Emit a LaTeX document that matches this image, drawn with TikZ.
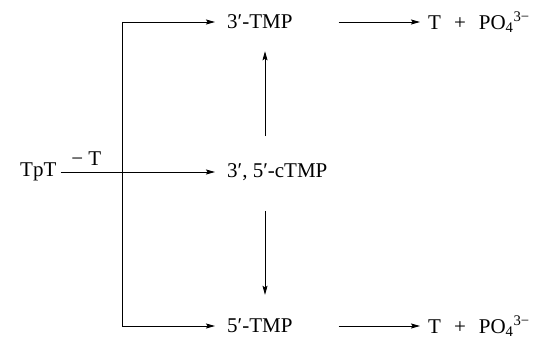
\documentclass[tikz,border=0pt]{standalone}
\usepackage{fontspec}
\setmainfont{Liberation Serif}
\usetikzlibrary{arrows.meta,positioning,calc}

\begin{document}
\begin{tikzpicture}[x=1pt, y=-1pt,
    chem/.style={inner sep=0pt, anchor=west, font=\fontsize{21}{25}\selectfont},
    arr/.style={-{Stealth[length=9pt, width=5pt, inset=1.5pt]}, line width=0.8pt},
    ln/.style={line width=0.8pt}]
  \useasboundingbox (0,0) rectangle (535,342);

  % species
  \node (tpt)  [chem] at (20,172)  {TpT};
  \node (ctmp) [chem] at (227,172) {3′, 5′-cTMP};
  \node (tmp3) [chem] at (227,22)  {3′-TMP};
  \node (tmp5) [chem] at (227,326) {5′-TMP};
  \node (prod3) [chem] at (428,22)  {T\hspace{13pt}+\hspace{13pt}PO\textsubscript{4}\textsuperscript{3−}};
  \node (prod5) [chem] at (428,326) {T\hspace{13pt}+\hspace{13pt}PO\textsubscript{4}\textsuperscript{3−}};

  % branch points
  \coordinate (split) at (122,172);
  \coordinate (splittop) at (split |- tmp3);
  \coordinate (splitbot) at (split |- tmp5);
  \coordinate (axis) at (265,0);

  \draw [ln, shorten <=4pt] (tpt) -- node [above=3pt, xshift=-3pt, font=\fontsize{21}{25}\selectfont] {− T} (split);
  \draw [ln] (splittop) -- (splitbot);
  \draw [arr, shorten >=12pt] (split) -- (ctmp);
  \draw [arr, shorten >=12pt] (splittop) -- (tmp3);
  \draw [arr, shorten >=12pt] (splitbot) -- (tmp5);
  \draw [arr, shorten <=46pt, shorten >=8pt] (tmp3) -- (prod3);
  \draw [arr, shorten <=46pt, shorten >=8pt] (tmp5) -- (prod5);
  \draw [arr, shorten <=27pt, shorten >=22pt] (ctmp.north -| axis) -- (tmp3.south -| axis);
  \draw [arr, shorten <=30pt, shorten >=24pt] (ctmp.south -| axis) -- (tmp5.north -| axis);
\end{tikzpicture}
\end{document}
